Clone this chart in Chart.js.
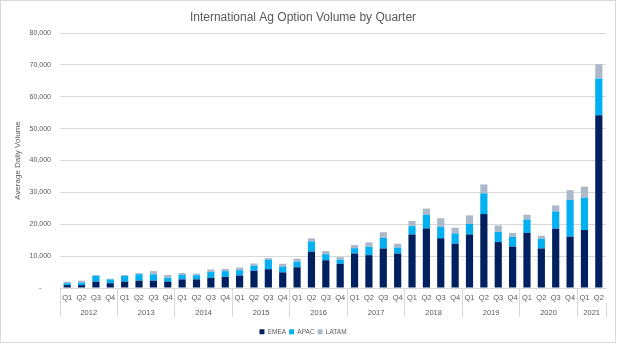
<!DOCTYPE html>
<html><head><meta charset="utf-8">
<script src="https://cdn.jsdelivr.net/npm/chart.js@4/dist/chart.umd.min.js"></script>
<style>
html,body{margin:0;padding:0;background:#fff;}
#wrap{position:relative;width:618px;height:345px;}
#frame{position:absolute;left:0;top:0;width:614px;height:341px;border:1px solid #d9d9d9;pointer-events:none;}
canvas{display:block;}
</style></head><body>
<div id="wrap"><canvas id="c" width="618" height="345" style="width:618px;height:345px"></canvas><div id="frame"></div></div>
<script>
const years = ['2012','2013','2014','2015','2016','2017','2018','2019','2020','2021'];
const quartersPerYear = [4,4,4,4,4,4,4,4,4,2];
const quarterLabels = [
  'Q1','Q2','Q3','Q4','Q1','Q2','Q3','Q4','Q1','Q2','Q3','Q4','Q1','Q2','Q3','Q4',
  'Q1','Q2','Q3','Q4','Q1','Q2','Q3','Q4','Q1','Q2','Q3','Q4','Q1','Q2','Q3','Q4',
  'Q1','Q2','Q3','Q4','Q1','Q2'
];
const emea = [
  900, 900, 2000, 1500,
  2000, 2300, 2300, 2000,
  2700, 2700, 3200, 3500,
  3900, 5400, 5900, 4900,
  6500, 11400, 8700, 7600,
  10800, 10300, 12400, 10800,
  16800, 18700, 15600, 13900,
  16800, 23200, 14400, 13000,
  17300, 12400, 18600, 16100,
  18200, 54200
];
const apac = [
  600, 800, 1800, 1200,
  1800, 2000, 2000, 1200,
  1400, 1300, 1800, 1800,
  1700, 1600, 3000, 1800,
  1800, 3200, 1900, 1300,
  1700, 2600, 3300, 1900,
  2600, 4300, 3600, 3200,
  3300, 6500, 3200, 3000,
  4200, 3000, 5400, 11500,
  10100, 11500
];
const latam = [
  500, 600, 300, 200,
  300, 400, 1000, 900,
  600, 500, 800, 700,
  800, 700, 500, 900,
  900, 1000, 1000, 800,
  1000, 1400, 1800, 1200,
  1600, 1900, 2700, 1800,
  2700, 2800, 2000, 1300,
  1500, 1000, 1900, 3100,
  3500, 4500
];
const yMax = 80000;
const yStep = 10000;

const NARROW = "'Liberation Sans Narrow','Liberation Sans',Arial,sans-serif";
const SANS = "'Liberation Sans',Arial,sans-serif";
const TXT = '#595959';
const SEP = '#d9d9d9';

// category indexes where a new year starts (plus the end)
const yearBoundaries = new Set();
(function () { let s = 0; yearBoundaries.add(0); quartersPerYear.forEach(n => { s += n; yearBoundaries.add(s); }); })();

function yearTicks() {
  const t = [];
  let start = 0;
  t.push({value: start - 0.5, sep: true});
  quartersPerYear.forEach((n, i) => {
    t.push({value: start + (n - 1) / 2, yr: years[i]});
    start += n;
    t.push({value: start - 0.5, sep: true});
  });
  return t;
}

new Chart(document.getElementById('c'), {
  type: 'bar',
  data: {
    labels: quarterLabels,
    datasets: [
      {label: 'EMEA', data: emea, backgroundColor: '#002060', borderWidth: 0},
      {label: 'APAC', data: apac, backgroundColor: '#00B0F0', borderWidth: 0},
      {label: 'LATAM', data: latam, backgroundColor: '#ACB9CA', borderWidth: 0}
    ]
  },
  options: {
    responsive: false,
    animation: false,
    layout: {padding: {left: 0, right: 12, top: 0, bottom: 0}},
    datasets: {bar: {barPercentage: 0.5, categoryPercentage: 1}},
    plugins: {
      title: {
        display: true,
        text: 'International Ag Option Volume by Quarter',
        color: TXT,
        font: {family: SANS, size: 12, weight: 'normal'},
        padding: {top: 10.8, bottom: 7.8}
      },
      legend: {
        position: 'bottom',
        labels: {boxWidth: 5, boxHeight: 5, color: TXT, padding: 3,
          font: {family: NARROW, size: 6.5}}
      },
      tooltip: {enabled: false}
    },
    scales: {
      x: {
        stacked: true,
        offset: true,
        grid: {
          display: true, drawOnChartArea: false, drawTicks: true, tickLength: 15, offset: true,
          color: ctx => yearBoundaries.has(ctx.index) ? SEP : 'rgba(0,0,0,0)'
        },
        border: {display: false},
        ticks: {color: TXT, font: {family: NARROW, size: 7.5}, padding: -9.5, autoSkip: false, maxRotation: 0},
        afterFit: s => { s.height = 15; }
      },
      x2: {
        type: 'linear',
        position: 'bottom',
        offset: false,
        bounds: 'data',
        min: -0.5,
        max: quarterLabels.length - 0.5,
        afterBuildTicks: s => {
          s.ticks = yearTicks();
          s.min = -0.5;
          s.max = quarterLabels.length - 0.5;
        },
        grid: {
          display: true, drawOnChartArea: false, drawTicks: true, tickLength: 14, offset: false,
          color: ctx => (ctx.tick && ctx.tick.sep) ? SEP : 'rgba(0,0,0,0)'
        },
        border: {display: false},
        ticks: {
          color: TXT, font: {family: NARROW, size: 7.5}, padding: -8.5, autoSkip: false, maxRotation: 0,
          callback: (v, i, t) => t[i].yr || ''
        },
        afterFit: s => { s.height = 22.5; }
      },
      y: {
        stacked: true,
        min: 0, max: yMax,
        grid: {color: '#d9d9d9', drawTicks: false},
        border: {display: false},
        ticks: {stepSize: yStep, color: TXT, padding: 9, font: {family: SANS, size: 7},
          callback: v => v === 0 ? '-     ' : v.toLocaleString('en-US')},
        title: {display: true, text: 'Average Daily Volume', color: TXT,
          font: {family: NARROW, size: 8}, padding: {top: 13, bottom: 0}},
        afterFit: s => { s.width = 60; }
      }
    }
  }
});
</script>
</body></html>
